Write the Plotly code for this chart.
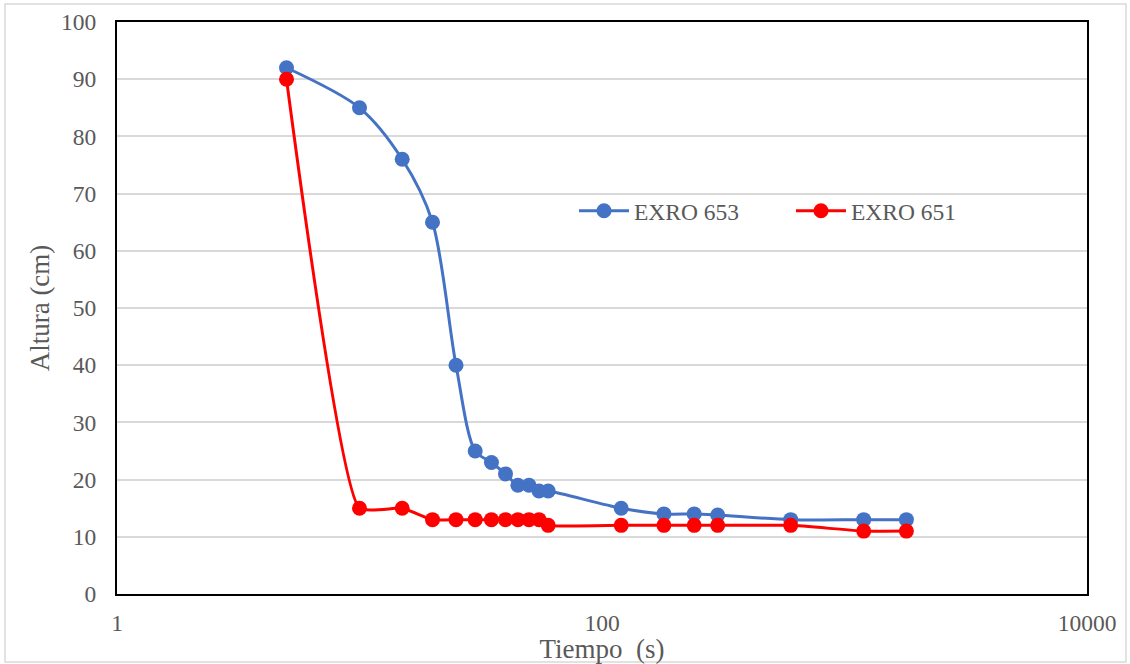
import plotly.graph_objects as go

time_s = [5, 10, 15, 20, 25, 30, 35, 40, 45, 50, 55, 60, 120, 180, 240, 300, 600, 1200, 1800]
exro_653 = [92, 85, 76, 65, 40, 25, 23, 21, 19, 19, 18, 18, 15, 14, 14, 13.8, 13, 13, 13]
exro_651 = [90, 15, 15, 13, 13, 13, 13, 13, 13, 13, 13, 12, 12, 12, 12, 12, 12, 11, 11]
series_names = ["EXRO 653", "EXRO 651"]
y_ticks = list(range(0, 101, 10))
x_ticks = [1, 100, 10000]

FONT = "Liberation Serif, Times New Roman, serif"
GRAY = "#595959"
FS = 23.5
TFS = 27

L, R, T, B = 117, 43, 22, 70
PW, PH = 1130 - L - R, 664 - T - B

fig = go.Figure()
for name, vals, col, sm in [(series_names[0], exro_653, "#4472C4", 0.85),
                            (series_names[1], exro_651, "#FF0000", 0.45)]:
    fig.add_trace(go.Scatter(
        x=time_s, y=vals, name=name, mode="lines+markers",
        line=dict(color=col, width=3, shape="spline", smoothing=sm),
        marker=dict(color=col, size=15),
    ))

fig.update_layout(
    width=1130, height=664,
    margin=dict(l=L, r=R, t=T, b=B, autoexpand=False),
    paper_bgcolor="white", plot_bgcolor="white",
    font=dict(family=FONT, size=FS, color=GRAY),
    showlegend=True,
    legend=dict(orientation="h", x=(574 - L) / PW, y=(594 - 211) / PH, xanchor="left", yanchor="middle",
                bgcolor="rgba(0,0,0,0)", font=dict(family=FONT, size=FS, color=GRAY),
                itemwidth=50, entrywidth=152, entrywidthmode="pixels"),
    xaxis=dict(type="log", range=[0, 4], tickvals=x_ticks, ticktext=[str(v) for v in x_ticks],
               showgrid=False, showline=True, linecolor="black", linewidth=2, mirror=True,
               ticks="outside", ticklen=7, tickcolor="rgba(0,0,0,0)", automargin=False,
               title=dict(text="Tiempo\u00a0 (s)", standoff=0, font=dict(family=FONT, size=TFS, color=GRAY)),
               zeroline=False),
    yaxis=dict(range=[0, 100], tickvals=y_ticks, showgrid=True, gridcolor="#D9D9D9", gridwidth=1.5,
               showline=True, linecolor="black", linewidth=2, mirror=True,
               ticks="outside", ticklen=14, tickcolor="rgba(0,0,0,0)", automargin=False,
               title=dict(text="Altura (cm)", standoff=4, font=dict(family=FONT, size=TFS, color=GRAY)),
               zeroline=False),
    shapes=[dict(type="rect", xref="paper", yref="paper",
                 x0=(5 - L) / PW, x1=(1126 - L) / PW,
                 y0=(594 - 662) / PH, y1=(594 - 4) / PH,
                 line=dict(color="#D9D9D9", width=1.5), layer="below")],
)

fig.write_html("out.html")
